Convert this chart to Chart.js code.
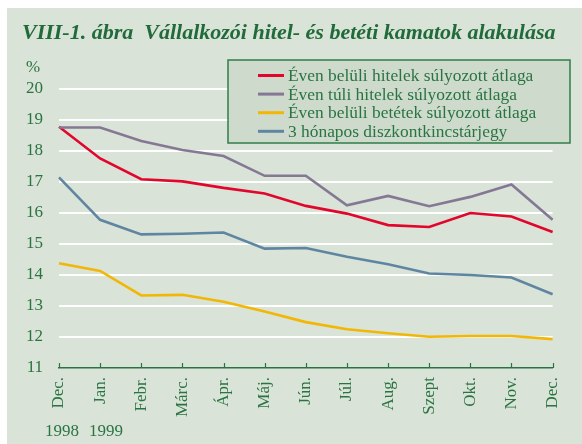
<!DOCTYPE html>
<html>
<head>
<meta charset="utf-8">
<script src="https://cdn.jsdelivr.net/npm/chart.js@4.4.0/dist/chart.umd.min.js"></script>
<style>
  html, body { margin: 0; padding: 0; background: #ffffff; }
  #wrap { width: 582px; height: 444px; position: relative; }
</style>
</head>
<body>
<div id="wrap"><canvas id="rates-chart" width="582" height="444"></canvas></div>
<script>
// Data (percent)
const months = ['Dec.', 'Jan.', 'Febr.', 'Márc.', 'Ápr.', 'Máj.', 'Jún.', 'Júl.', 'Aug.', 'Szept', 'Okt.', 'Nov.', 'Dec.'];
const shortLoans = [18.78, 17.76, 17.09, 17.02, 16.81, 16.63, 16.23, 15.98, 15.61, 15.55, 16.00, 15.89, 15.39];
const longLoans = [18.76, 18.76, 18.32, 18.03, 17.84, 17.20, 17.20, 16.25, 16.55, 16.22, 16.52, 16.92, 15.78];
const shortDeposits = [14.38, 14.13, 13.34, 13.36, 13.14, 12.82, 12.48, 12.25, 12.12, 12.01, 12.03, 12.03, 11.93];
const tBill3m = [17.15, 15.78, 15.31, 15.33, 15.37, 14.85, 14.87, 14.59, 14.35, 14.05, 14.00, 13.92, 13.38];
const yearLabels = ['1998', '1999'];

const GREEN_TEXT = '#2a7442';
const PANEL = '#d9e3d7';
const SERIF = '"Liberation Serif", "Times New Roman", serif';

// panel, title, legend, tick marks and extra labels
const decorPlugin = {
    id: 'decor',
    beforeDraw(chart) {
        const ctx = chart.ctx;
        ctx.save();
        ctx.fillStyle = PANEL;
        ctx.fillRect(7, 8, 575, 436);
        ctx.restore();
    },
    afterDraw(chart) {
        const ctx = chart.ctx;
        const area = chart.chartArea;
        const xScale = chart.scales.x;
        ctx.save();

        // title
        ctx.fillStyle = '#216b3a';
        ctx.font = 'italic bold 22px ' + SERIF;
        ctx.textBaseline = 'middle';
        ctx.textAlign = 'left';
        ctx.fillText('VIII-1. ábra  Vállalkozói hitel- és betéti kamatok alakulása', 22, 33);

        // unit
        ctx.fillStyle = GREEN_TEXT;
        ctx.font = '17px ' + SERIF;
        ctx.fillText('%', 26, 68);

        // years under the first two months
        ctx.font = '17px ' + SERIF;
        ctx.fillText(yearLabels[0], 45, 432);
        ctx.fillText(yearLabels[1], 89, 432);

        // upward tick marks on the x axis
        ctx.strokeStyle = GREEN_TEXT;
        ctx.lineWidth = 1.2;
        months.forEach((m, i) => {
            const x = Math.round(xScale.getPixelForValue(i)) + 0.5;
            ctx.beginPath();
            ctx.moveTo(x, area.bottom);
            ctx.lineTo(x, area.bottom - 5);
            ctx.stroke();
        });

        // legend box
        const box = { x: 228, y: 60, w: 342, h: 83 };
        ctx.fillStyle = '#cedbcc';
        ctx.fillRect(box.x, box.y, box.w, box.h);
        ctx.strokeStyle = '#2f7d48';
        ctx.lineWidth = 1.5;
        ctx.strokeRect(box.x, box.y, box.w, box.h);

        ctx.font = '17.4px ' + SERIF;
        ctx.textBaseline = 'middle';
        chart.data.datasets.forEach((ds, i) => {
            const y = 75.5 + i * 18.6;
            ctx.strokeStyle = ds.borderColor;
            ctx.lineWidth = 3;
            ctx.beginPath();
            ctx.moveTo(258, y);
            ctx.lineTo(284, y);
            ctx.stroke();
            ctx.fillStyle = GREEN_TEXT;
            ctx.fillText(ds.label, 288, y + 1);
        });
        ctx.restore();
    }
};

const lineStyle = (color) => ({
    borderColor: color,
    backgroundColor: color,
    borderWidth: 2.6,
    pointRadius: 0,
    tension: 0,
    fill: false
});

new Chart(document.getElementById('rates-chart').getContext('2d'), {
    type: 'line',
    data: {
        labels: months,
        datasets: [
            Object.assign({ label: 'Éven belüli hitelek súlyozott átlaga', data: shortLoans, order: 2 }, lineStyle('#e2062c')),
            Object.assign({ label: 'Éven túli hitelek súlyozott átlaga', data: longLoans, order: 1 }, lineStyle('#857895')),
            Object.assign({ label: 'Éven belüli betétek súlyozott átlaga', data: shortDeposits, order: 3 }, lineStyle('#f2b705')),
            Object.assign({ label: '3 hónapos diszkontkincstárjegy', data: tBill3m, order: 4 }, lineStyle('#5f86a0'))
        ]
    },
    options: {
        responsive: false,
        animation: false,
        layout: {
            padding: { left: 0, right: 12, top: 89, bottom: 0 }
        },
        plugins: {
            legend: { display: false },
            title: { display: false },
            tooltip: { enabled: false }
        },
        scales: {
            x: {
                offset: false,
                afterFit(scale) { scale.height = 76; },
                grid: { display: false, drawTicks: false },
                border: { display: true, color: GREEN_TEXT, width: 1.5 },
                ticks: {
                    autoSkip: false,
                    minRotation: 90,
                    maxRotation: 90,
                    padding: 9,
                    color: GREEN_TEXT,
                    font: { family: SERIF, size: 17 }
                }
            },
            y: {
                min: 11,
                max: 20,
                afterFit(scale) { scale.width = 59; },
                grid: {
                    drawTicks: false,
                    lineWidth: 2,
                    color: (c) => (c.tick && c.tick.value === 11 ? 'rgba(0,0,0,0)' : '#ffffff')
                },
                border: { display: false },
                ticks: {
                    stepSize: 1,
                    padding: 16,
                    color: GREEN_TEXT,
                    font: { family: SERIF, size: 17 }
                }
            }
        }
    },
    plugins: [decorPlugin]
});
</script>
</body>
</html>
